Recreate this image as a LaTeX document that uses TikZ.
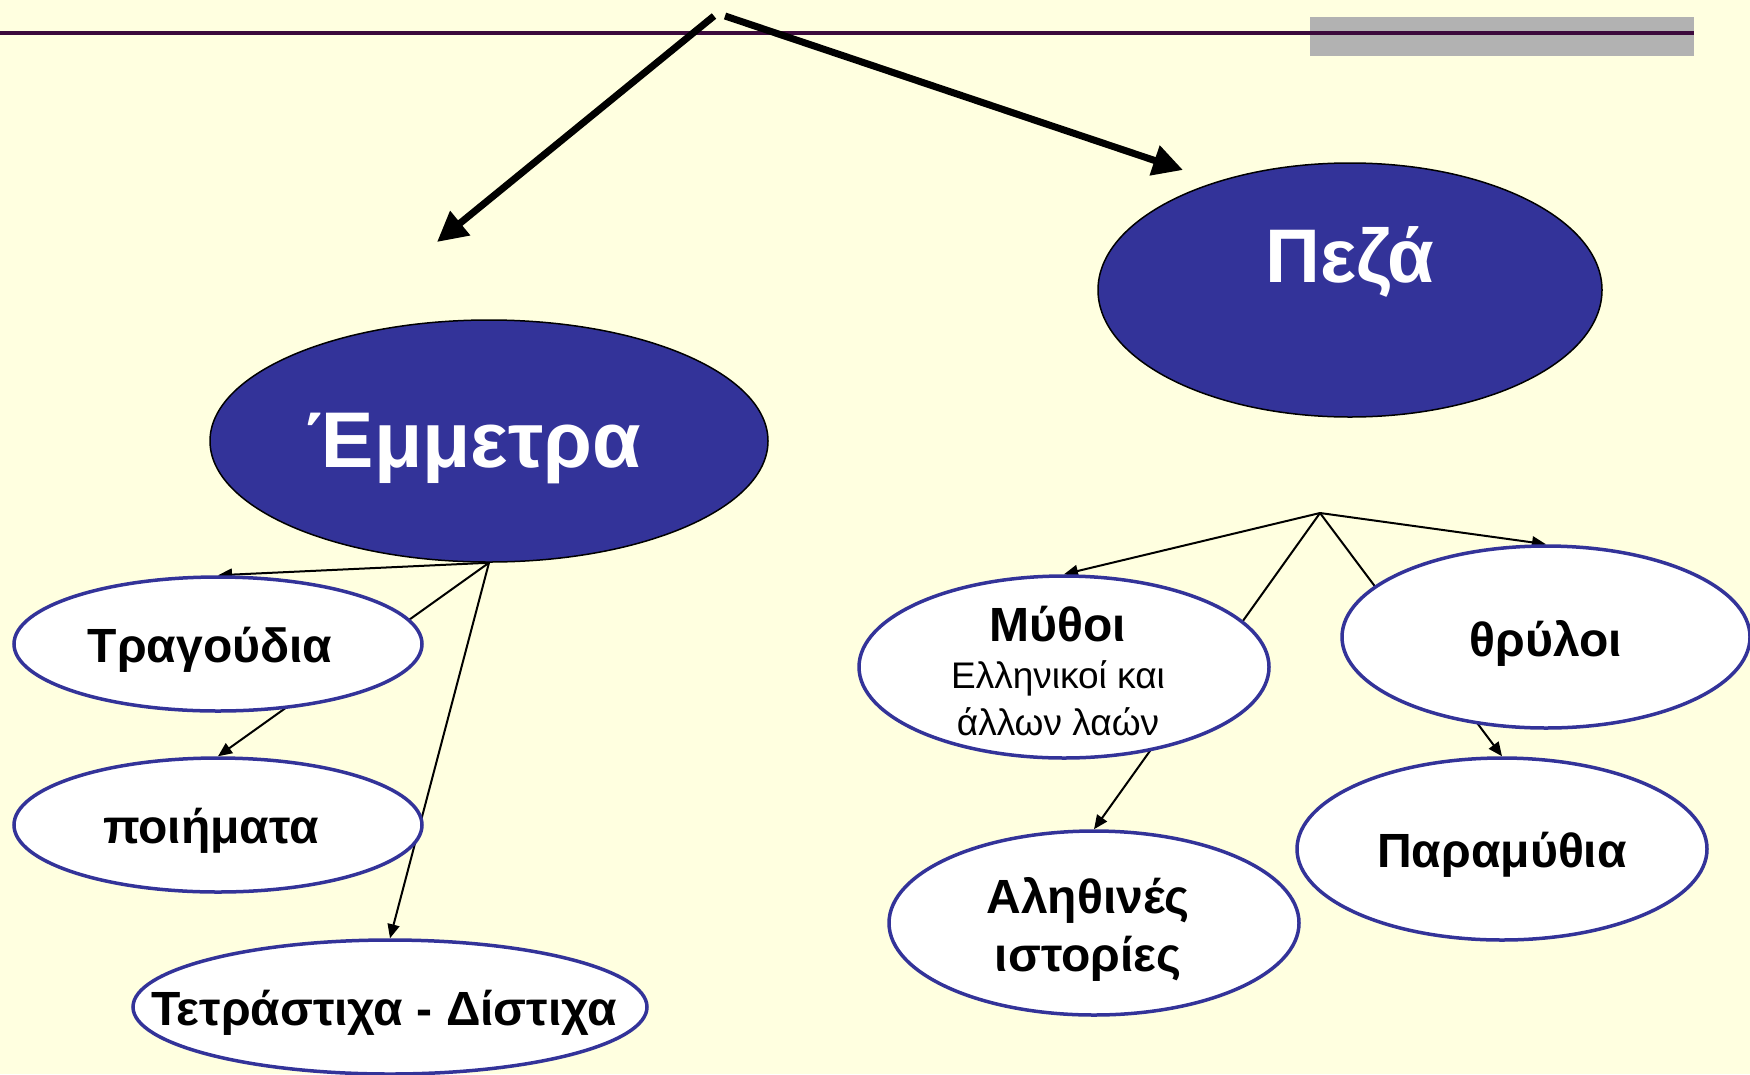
\documentclass[tikz,border=0pt]{standalone}
\usepackage{fontspec}
\setmainfont{Liberation Sans}
\usetikzlibrary{shapes.geometric,arrows.meta}

\definecolor{paper}{RGB}{255,255,224}
\definecolor{navy}{RGB}{51,51,153}
\definecolor{plum}{RGB}{60,10,60}
\definecolor{bargray}{RGB}{178,178,178}

\pgfdeclarelayer{back}
\pgfsetlayers{back,main}

\newcommand{\subline}{\mdseries\fontsize{37}{47}\selectfont}

\tikzset{
  bigtopic/.style={ellipse, draw=black, line width=1.5pt, fill=navy, inner sep=0pt},
  leaf/.style={ellipse, draw=navy, line width=3.5pt, fill=white, inner sep=0pt},
  bigtext/.style={text=white, font=\fontsize{76}{84}\selectfont\bfseries},
  leaftext/.style={font=\fontsize{48}{58}\selectfont\bfseries, align=center, yshift=-6pt},
  link/.style={line width=2pt, -{Triangle[length=14pt,width=12pt]}},
  bigarrow/.style={line width=7pt, -{Triangle[length=30pt,width=30pt]}},
}

\begin{document}
\begin{tikzpicture}[x=1pt,y=-1pt]
    \begin{pgfonlayer}{back}
        \fill[paper] (0,0) rectangle (1750,1074);
    \end{pgfonlayer}
    \useasboundingbox (0,0) rectangle (1750,1074);

    % top bar
    \fill[bargray] (1310,17) rectangle (1694,56);
    \draw[plum, line width=4pt] (0,33) -- (1694,33);

    % the two groups
    \node[bigtopic, minimum width=558pt, minimum height=242pt,
          label={[bigtext, font=\fontsize{79}{86}\selectfont\bfseries, xshift=-15pt, yshift=-7pt]center:Έμμετρα}] (emm) at (489,441) {};
    \node[bigtopic, minimum width=504pt, minimum height=254pt,
          label={[bigtext, yshift=28pt]center:Πεζά}] (pez) at (1350,290) {};

    % left side
    \node[leaf, minimum width=408pt, minimum height=134pt,
          label={[leaftext, xshift=-8pt]center:Τραγούδια}] (trag) at (218,644) {};
    \node[leaf, minimum width=408pt, minimum height=134pt,
          label={[leaftext, xshift=-7pt]center:ποιήματα}] (poi) at (218,825) {};
    \node[leaf, minimum width=514pt, minimum height=134pt,
          label={[leaftext, xshift=-6pt]center:Τετράστιχα - Δίστιχα}] (tetr) at (390,1007) {};

    % right side
    \node[leaf, minimum width=410pt, minimum height=182pt,
          label={[leaftext, xshift=-6pt, yshift=2pt, font=\fontsize{48}{47}\selectfont\bfseries]center:Μύθοι\\ \subline Ελληνικοί και\\ \subline άλλων λαών}] (myth) at (1064,667) {};
    \node[leaf, minimum width=408pt, minimum height=182pt,
          label={[leaftext]center:θρύλοι}] (thry) at (1546,637) {};
    \node[leaf, minimum width=410pt, minimum height=182pt,
          label={[leaftext]center:Παραμύθια}] (param) at (1502,849) {};
    \node[leaf, minimum width=410pt, minimum height=184pt,
          label={[leaftext, xshift=-6pt]center:Αληθινές\\ιστορίες}] (alet) at (1094,923) {};

    \coordinate (emmfrom) at (714,16);
    \coordinate (emmto) at (437,242);
    \coordinate (pezfrom) at (725,16);
    \coordinate (pezto) at (1183,170);
    \coordinate (pezjoin) at (1320,513);

    \draw[bigarrow] (emmfrom) -- (emmto);
    \draw[bigarrow] (pezfrom) -- (pezto);

    \begin{pgfonlayer}{back}
        \draw[link] (emm.south) -- (trag.north);
        \draw[link] (emm.south) -- (poi.north);
        \draw[link] (emm.south) -- (tetr.north);
        \draw[link] (pezjoin) -- (myth.north);
        \draw[link] (pezjoin) -- (alet.north);
        \draw[link] (pezjoin) -- (thry.north);
        \draw[link] (pezjoin) -- (param.north);
    \end{pgfonlayer}
\end{tikzpicture}
\end{document}
